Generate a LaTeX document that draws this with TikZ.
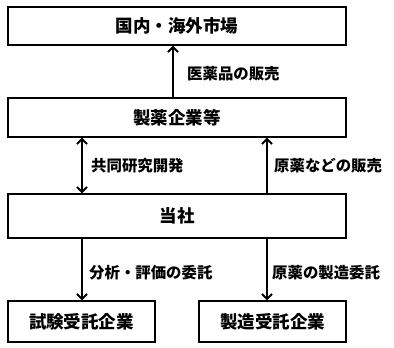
\documentclass[tikz,border=0pt]{standalone}
\usepackage{fontspec}
\setmainfont{Noto Sans CJK JP}
\usetikzlibrary{arrows.meta}
\begin{document}
\begin{tikzpicture}[x=1pt,y=-1pt,
  boxstyle/.style={draw, line width=1.2pt, inner sep=0pt, font=\fontsize{17.5}{20}\selectfont\bfseries},
  lbl/.style={font=\fontsize{15.4}{18}\selectfont\bfseries, anchor=west, inner sep=0pt},
  arr/.style={line width=2pt, -{Straight Barb[length=5pt,width=10pt,line width=2pt]}},
  darr/.style={line width=2pt, {Straight Barb[length=5pt,width=10pt,line width=2pt]}-{Straight Barb[length=5pt,width=10pt,line width=2pt]}}]
\useasboundingbox (0,0) rectangle (394,348);
\node[boxstyle, minimum width=338pt, minimum height=38pt] (mkt) at (177,26) {国内・海外市場};
\node[boxstyle, minimum width=338pt, minimum height=39pt] (pharma) at (177,117.5) {製薬企業等};
\node[boxstyle, minimum width=338pt, minimum height=44pt] (us) at (177,216) {当社};
\node[boxstyle, minimum width=147pt, minimum height=41pt] (test) at (81.5,321.5) {試験受託企業};
\node[boxstyle, minimum width=147pt, minimum height=41pt] (mfg) at (272.5,321.5) {製造受託企業};
\coordinate (a1) at (173,98);
\draw[arr] (a1) -- (a1 |- mkt.south);
\node[lbl] at (187,74) {医薬品の販売};
\coordinate (b1) at (82,137);
\draw[darr] (b1 |- pharma.south) -- (b1 |- us.north);
\node[lbl] at (91,166) {共同研究開発};
\coordinate (c1) at (267,194);
\draw[arr] (c1 |- us.north) -- (c1 |- pharma.south);
\node[lbl] at (274,166) {原薬などの販売};
\draw[arr] (b1 |- us.south) -- (b1 |- test.north);
\node[lbl] at (89,273) {分析・評価の委託};
\draw[arr] (c1 |- us.south) -- (c1 |- mfg.north);
\node[lbl] at (272,273) {原薬の製造委託};
\end{tikzpicture}
\end{document}
